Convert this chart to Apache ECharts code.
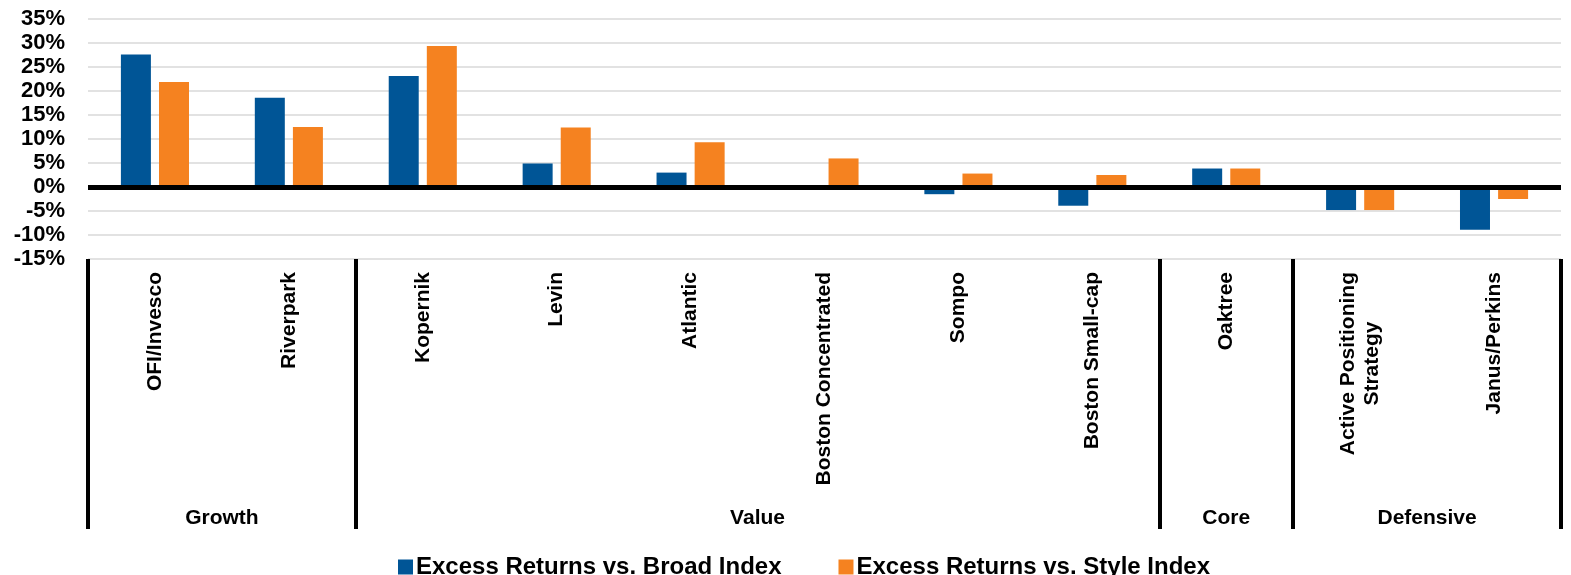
<!DOCTYPE html>
<html>
<head>
<meta charset="utf-8">
<title>Excess Returns by Manager</title>
<script src="https://cdn.jsdelivr.net/npm/echarts@6/dist/echarts.min.js"></script>
<style>
  html, body { margin: 0; padding: 0; background: #ffffff; }
  #chart { width: 1571px; height: 575px; }
</style>
</head>
<body>
<div id="chart"></div>
<script>
// Managers (one bar pair each), in display order
const managers = [
  'OFI/Invesco', 'Riverpark', 'Kopernik', 'Levin', 'Atlantic',
  'Boston Concentrated', 'Sompo', 'Boston Small-cap', 'Oaktree',
  'Active Positioning\nStrategy', 'Janus/Perkins'
];

// Excess returns (%) per manager
const vsBroadIndex = [27.6, 18.6, 23.1, 4.9, 3.0, 0, -1.5, -3.9, 3.85, -4.8, -8.9];
const vsStyleIndex = [21.9, 12.5, 29.4, 12.4, 9.3, 5.95, 2.8, 2.5, 3.85, -4.8, -2.5];

const seriesNames = ['Excess Returns vs. Broad Index', 'Excess Returns vs. Style Index'];

// Style groups: name, first manager index, number of managers
const groupNames = ['Growth', 'Value', 'Core', 'Defensive'];
const groupStart = [0, 2, 8, 9];
const groupSize = [2, 6, 1, 2];

// Y axis range (%)
const yMin = -15, yMax = 35, yStep = 5;

const FONT = '"Liberation Sans", Arial, sans-serif';
const BLUE = '#005596';
const ORANGE = '#F58220';

// Group boundaries and centres on a 0..N band scale
const boundaries = groupStart.concat([managers.length]);
const groupCentres = groupStart.map((s, i) => s + groupSize[i] / 2);

const chart = echarts.init(document.getElementById('chart'), null, { renderer: 'canvas' });

chart.setOption({
  animation: false,
  backgroundColor: '#ffffff',
  grid: { left: 88, right: 10, top: 19, bottom: 316, containLabel: false },
  legend: {
    data: seriesNames,
    left: 393,
    top: 550,
    itemWidth: 15,
    itemHeight: 15,
    itemGap: 57,
    icon: 'rect',
    textStyle: { fontFamily: FONT, fontWeight: 'bold', fontSize: 24, color: '#000', padding: [0, 0, 0, -2] }
  },
  xAxis: [
    {
      type: 'category',
      data: managers,
      position: 'bottom',
      axisLine: { show: false },
      axisTick: { show: false },
      splitLine: { show: false },
      axisLabel: {
        interval: 0,
        rotate: 90,
        margin: 13,
        fontFamily: FONT,
        fontWeight: 'bold',
        fontSize: 21,
        color: '#000',
        lineHeight: 24,
        formatter: function (v) {
          return v.split('\n').map(s => '{c|' + s + '}').join('\n');
        },
        rich: {
          c: { align: 'center', fontFamily: FONT, fontWeight: 'bold', fontSize: 21, color: '#000', lineHeight: 24 }
        }
      }
    },
    {
      // Style-group band: separators and group names
      type: 'value',
      min: 0,
      max: managers.length,
      position: 'bottom',
      axisLine: { show: false },
      splitLine: { show: false },
      axisTick: {
        show: true,
        customValues: boundaries,
        length: 270,
        inside: false,
        lineStyle: { color: '#000', width: 4 }
      },
      axisLabel: {
        show: true,
        customValues: groupCentres,
        margin: 249,
        fontFamily: FONT,
        fontWeight: 'bold',
        fontSize: 21,
        color: '#000',
        formatter: function (v) {
          const i = groupCentres.findIndex(c => Math.abs(c - v) < 1e-6);
          return i >= 0 ? groupNames[i] : '';
        }
      }
    }
  ],
  yAxis: {
    type: 'value',
    min: yMin,
    max: yMax,
    interval: yStep,
    axisLine: { show: false },
    axisTick: { show: false },
    splitLine: { show: true, lineStyle: { color: '#d9d9d9', width: 1.5 } },
    axisLabel: {
      margin: 23,
      fontFamily: FONT,
      fontWeight: 'bold',
      fontSize: 22,
      color: '#000',
      formatter: '{value}%'
    }
  },
  series: [
    {
      name: seriesNames[0],
      type: 'bar',
      xAxisIndex: 0,
      data: vsBroadIndex,
      barWidth: 30,
      barGap: '27%',
      itemStyle: { color: BLUE },
      markLine: {
        silent: true,
        symbol: ['none', 'none'],
        label: { show: false },
        lineStyle: { color: '#000', width: 5, type: 'solid' },
        data: [{ yAxis: 0 }],
        z: 10
      }
    },
    {
      name: seriesNames[1],
      type: 'bar',
      xAxisIndex: 0,
      data: vsStyleIndex,
      barWidth: 30,
      barGap: '27%',
      itemStyle: { color: ORANGE }
    }
  ]
});
</script>
</body>
</html>
